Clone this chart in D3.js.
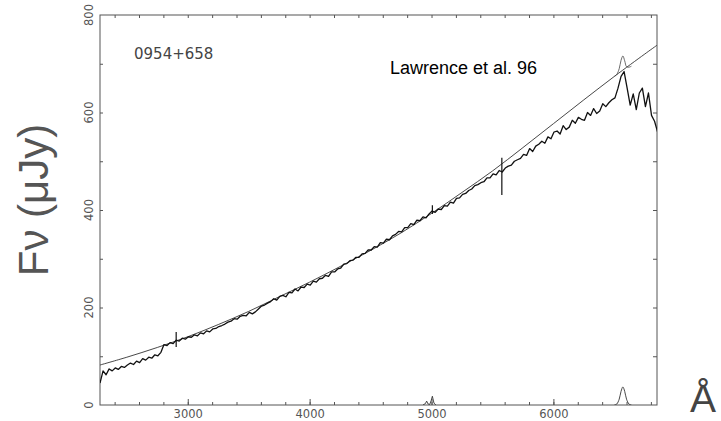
<!DOCTYPE html>
<html><head><meta charset="utf-8">
<script src="https://cdn.jsdelivr.net/npm/d3@7"></script>
<style>
html,body{margin:0;padding:0;background:#fff;}
svg{display:block;}
</style></head>
<body>
<svg id="chart" width="721" height="421"></svg>
<script>
// ---- data ----
const xDomain = [2280, 6850];
const yDomain = [0, 800];
const xTickValues = [3000, 4000, 5000, 6000];
const yTickValues = [0, 200, 400, 600, 800];
const objectName = "0954+658";
const sourceLabel = "Lawrence et al. 96";

// observed spectrum: sampled on a 25 Å grid starting at 2280 Å
const specStart = 2280;
const specStep = 25;
const specFlux = [
  45, 70, 62, 74, 70, 76, 73, 79, 77, 82,
  86, 83, 90, 87, 95, 92, 98, 96, 103, 101,
  108, 124, 122, 128, 126, 133, 131, 137, 135, 140,
  139, 144, 142, 148, 146, 152, 150, 156, 157, 161,
  163, 166, 170, 172, 177, 176, 182, 184, 183, 190,
  187, 191, 197, 203, 205, 209, 212, 218, 215, 223,
  225, 222, 231, 230, 238, 234, 242, 241, 248, 246,
  254, 252, 259, 260, 266, 264, 273, 273, 279, 281,
  289, 290, 296, 297, 303, 303, 310, 311, 318, 318,
  325, 324, 333, 332, 340, 339, 347, 350, 356, 355,
  364, 364, 372, 370, 379, 378, 386, 384, 392, 398,
  395, 402, 401, 409, 408, 416, 414, 424, 425, 432,
  434, 440, 443, 450, 452, 456, 458, 466, 466, 474,
  472, 481, 478, 486, 490, 492, 500, 503, 506, 514,
  512, 526, 520, 531, 535, 541, 537, 550, 546, 560,
  562, 556, 573, 565, 570, 584, 578, 590, 586, 584,
  600, 594, 608, 598, 603, 618, 612, 620, 626, 630,
  650, 674, 684, 650, 615, 638, 606, 640, 650, 612,
  640, 594, 582, 560
];
// narrow spikes in the spectrum: [wavelength, low, high]
const spikes = [[2905, 119, 150], [5007, 392, 410], [5577, 431, 507]];

// fitted continuum
const fitWave = [2280, 2500, 2750, 3000, 3250, 3500, 3750, 4000, 4250, 4500, 4750, 5000, 5250, 5500, 5750, 6000, 6250, 6500, 6750, 6850];
const fitFlux = [82, 98, 118, 140, 165, 192, 222, 252, 284, 317, 353, 393, 436, 480, 528, 577, 626, 674, 720, 738];

// continuum + H-alpha model bump
const bumpWave = [6500, 6520, 6540, 6555, 6570, 6585, 6600, 6620, 6640];
const bumpFlux = [674, 678, 690, 707, 716, 706, 694, 693, 695];

// emission-line profiles on the zero level
const oiiiWave = [4930, 4950, 4960, 4972, 4985, 4997, 5007, 5020, 5035];
const oiiiFlux = [0, 3, 8, 2, 1, 9, 18, 4, 0];
const haWave = [6500, 6520, 6540, 6555, 6570, 6585, 6600, 6620, 6640];
const haFlux = [0, 2, 12, 28, 37, 28, 12, 2, 0];

// ---- layout ----
const svg = d3.select("#chart");
const L = 100, R = 657, T = 15, B = 405;
const x = d3.scaleLinear().domain(xDomain).range([L, R]);
const y = d3.scaleLinear().domain(yDomain).range([B, T]);

svg.append("defs").append("clipPath").attr("id", "clip")
  .append("rect").attr("x", L).attr("y", T).attr("width", R - L).attr("height", B - T);

const axisColor = "#555";
const labelFont = "DejaVu Sans, sans-serif";

// frame
svg.append("rect").attr("x", L).attr("y", T).attr("width", R - L).attr("height", B - T)
  .attr("fill", "none").attr("stroke", axisColor).attr("stroke-width", 1);

function styleAxis(g) {
  g.select(".domain").remove();
  g.selectAll("line").attr("stroke", axisColor);
  g.selectAll("text").attr("fill", "#555").attr("font-family", labelFont).attr("font-size", "11.5px");
}
const minorX = d3.range(2400, 6850, 200);
svg.append("g").attr("transform", `translate(0,${B})`)
  .call(d3.axisTop(x).tickValues(minorX).tickSize(3).tickFormat(""))
  .call(styleAxis);
svg.append("g").attr("transform", `translate(0,${B})`)
  .call(d3.axisTop(x).tickValues(xTickValues).tickSize(6).tickFormat(""))
  .call(styleAxis);
svg.append("g").attr("transform", `translate(0,${B})`)
  .call(d3.axisBottom(x).tickValues(xTickValues).tickSize(0).tickPadding(5).tickFormat(d3.format("d")))
  .call(styleAxis);
svg.append("g").attr("transform", `translate(0,${T})`)
  .call(d3.axisBottom(x).tickValues(minorX).tickSize(3).tickFormat(""))
  .call(styleAxis);

const minorY = d3.range(100, 800, 100);
svg.append("g").attr("transform", `translate(${L},0)`)
  .call(d3.axisRight(y).tickValues(minorY).tickSize(3).tickFormat(""))
  .call(styleAxis);
svg.append("g").attr("transform", `translate(${R},0)`)
  .call(d3.axisLeft(y).tickValues(minorY).tickSize(4).tickFormat(""))
  .call(styleAxis);

// rotated y tick labels
svg.append("g").selectAll("text").data(yTickValues).join("text")
  .attr("transform", d => `translate(93,${y(d)}) rotate(-90)`)
  .attr("text-anchor", "middle")
  .attr("fill", "#555").attr("font-family", labelFont).attr("font-size", "11.5px")
  .text(d => d);

// plot content
const plot = svg.append("g").attr("clip-path", "url(#clip)");
const line = d3.line().x(d => x(d[0])).y(d => y(d[1]));
const smooth = d3.line().x(d => x(d[0])).y(d => y(d[1])).curve(d3.curveCatmullRom);

const specData = specFlux.map((v, i) => [specStart + i * specStep, v]);
plot.append("path").datum(d3.zip(fitWave, fitFlux)).attr("d", smooth)
  .attr("fill", "none").attr("stroke", "#333").attr("stroke-width", 0.9);
plot.append("path").datum(d3.zip(bumpWave, bumpFlux)).attr("d", smooth)
  .attr("fill", "none").attr("stroke", "#444").attr("stroke-width", 0.8);
plot.append("path").datum(specData).attr("d", line)
  .attr("fill", "none").attr("stroke", "#111").attr("stroke-width", 1.3).attr("stroke-linejoin", "round");
plot.selectAll("line.spike").data(spikes).join("line").attr("class", "spike")
  .attr("x1", d => x(d[0])).attr("x2", d => x(d[0]))
  .attr("y1", d => y(d[1])).attr("y2", d => y(d[2]))
  .attr("stroke", "#111").attr("stroke-width", 1.2);
plot.append("path").datum(d3.zip(oiiiWave, oiiiFlux)).attr("d", line)
  .attr("fill", "none").attr("stroke", "#333").attr("stroke-width", 0.9);
plot.append("path").datum(d3.zip(haWave, haFlux)).attr("d", smooth)
  .attr("fill", "none").attr("stroke", "#333").attr("stroke-width", 0.9);

// annotations
svg.append("text").attr("x", 134).attr("y", 59)
  .attr("font-family", labelFont).attr("font-size", "15px").attr("fill", "#444")
  .text(objectName);
svg.append("text").attr("x", 390).attr("y", 74)
  .attr("font-family", "Liberation Sans, Arial, sans-serif").attr("font-size", "18px").attr("fill", "#000")
  .text(sourceLabel);

// axis titles
svg.append("text").attr("transform", "translate(48,200) rotate(-90)")
  .attr("text-anchor", "middle")
  .attr("font-family", "Liberation Sans, Arial, sans-serif").attr("font-size", "42px").attr("fill", "#555")
  .text("Fν (μJy)");
svg.append("text").attr("x", 690).attr("y", 412)
  .attr("font-family", "Liberation Sans, Arial, sans-serif").attr("font-size", "39px").attr("fill", "#444")
  .text("Å");
</script>
</body></html>
